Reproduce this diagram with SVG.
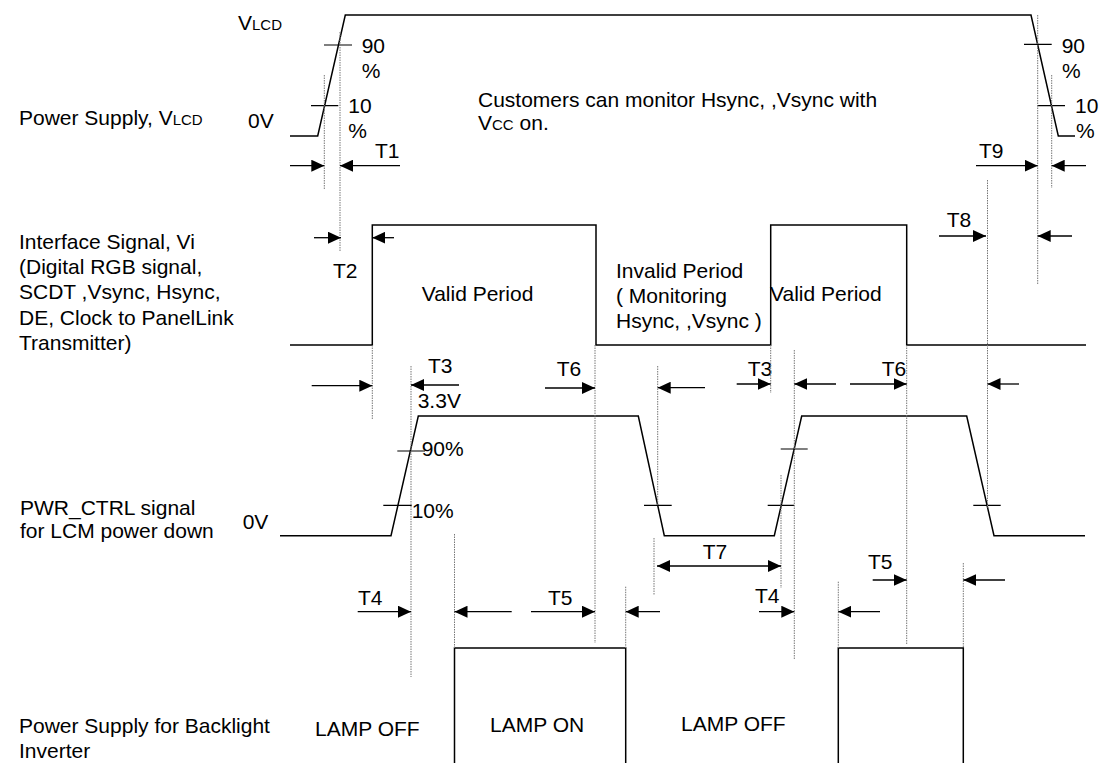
<svg xmlns="http://www.w3.org/2000/svg" width="1115" height="763" viewBox="0 0 1115 763">
<style>
text{font-family:"Liberation Sans",Arial,sans-serif;font-size:21px;fill:#000}
.sm{font-size:15px}
.tr{fill:none;stroke:#000;stroke-width:1.5}
.tk{fill:none;stroke:#000;stroke-width:1.2}
.dt{fill:none;stroke:#777;stroke-width:1;stroke-dasharray:1.5,1}
.ar{fill:none;stroke:#000;stroke-width:1.3;marker-end:url(#ah)}
.ar2{fill:none;stroke:#000;stroke-width:1.3;marker-end:url(#ah);marker-start:url(#ahs)}
</style>
<defs>
<marker id="ah" markerUnits="userSpaceOnUse" markerWidth="14" markerHeight="12" refX="13" refY="6" orient="auto"><path d="M0,0 L13,6 L0,12 z" fill="#000"/></marker>
<marker id="ahs" markerUnits="userSpaceOnUse" markerWidth="14" markerHeight="12" refX="13" refY="6" orient="auto-start-reverse"><path d="M0,0 L13,6 L0,12 z" fill="#000"/></marker>
</defs>
<rect width="1115" height="763" fill="#fff"/>

<g id="labels">
<text x="19" y="125">Power Supply, V<tspan class="sm">LCD</tspan></text>
<text x="19" y="249">Interface Signal, Vi</text>
<text x="19" y="274">(Digital RGB signal,</text>
<text x="19" y="299">SCDT ,Vsync, Hsync,</text>
<text x="19" y="325">DE, Clock to PanelLink</text>
<text x="19" y="350">Transmitter)</text>
<text x="20" y="515">PWR_CTRL signal</text>
<text x="20" y="538">for LCM power down</text>
<text x="19" y="733">Power Supply for Backlight</text>
<text x="19" y="758">Inverter</text>
</g>

<g id="vlcd">
<path class="tr" d="M290,136 H317.7 L345.3,15 H1031 L1058.3,136 H1075"/>
<path class="tk" d="M324,45 H352 M311,105.7 H338.3 M1024,44.3 H1051.7 M1037.3,105.7 H1065"/>
<text x="238" y="30">V<tspan class="sm">LCD</tspan></text>
<text x="361.7" y="53">90</text>
<text x="361.7" y="78">%</text>
<text x="348.3" y="113">10</text>
<text x="348.3" y="138">%</text>
<text x="248" y="128">0V</text>
<text x="375" y="158">T1</text>
<text x="1061.7" y="53">90</text>
<text x="1062" y="78">%</text>
<text x="1075" y="113">10</text>
<text x="1076" y="138">%</text>
<text x="979" y="158">T9</text>
<text x="478" y="106.7">Customers can monitor Hsync, ,Vsync with</text>
<text x="478" y="130">V<tspan class="sm">CC</tspan> on.</text>
</g>

<g id="interface">
<path class="tr" d="M290,345 H372.3 V225 H596 V345 H770.7 V225 H906.7 V345 H1086"/>
<text x="333" y="278">T2</text>
<text x="421.7" y="300.7">Valid Period</text>
<text x="616" y="278.3">Invalid Period</text>
<text x="616" y="303.3">( Monitoring</text>
<text x="616" y="328.3">Hsync, ,Vsync )</text>
<text x="770" y="300.7">Valid Period</text>
<text x="946.7" y="226.7">T8</text>
<text x="428" y="373">T3</text>
<text x="556.7" y="375.7">T6</text>
<text x="747.7" y="375.7">T3</text>
<text x="881.7" y="375.7">T6</text>
</g>

<g id="pwr_ctrl">
<path class="tr" d="M280,535.7 H391 L418.3,416 H638.3 L664.3,535.7 H774.3 L801.7,416 H966.7 L994,535.7 H1085"/>
<path class="tk" d="M397.3,451 H425 M383.3,505.3 H411.7 M644,505.3 H671.7 M780.7,449 H807.7 M767.7,505.3 H794.3 M973.3,505.3 H1000.7"/>
<text x="417.7" y="408.3">3.3V</text>
<text x="421.7" y="456">90%</text>
<text x="411.7" y="518.3">10%</text>
<text x="242.7" y="529">0V</text>
<text x="702.7" y="559">T7</text>
<text x="358" y="605">T4</text>
<text x="548" y="605">T5</text>
<text x="755" y="603">T4</text>
<text x="868" y="569">T5</text>
</g>

<g id="backlight">
<path class="tr" d="M454.5,763 V648 H625.7 V763 M838.3,763 V648 H963.3 V763"/>
<text x="315" y="736">LAMP OFF</text>
<text x="490" y="732">LAMP ON</text>
<text x="681" y="731">LAMP OFF</text>
</g>

<g id="connectors">
<path class="dt" d="M324.3,75 V189 M340,32 V252 M1037.7,15 V284 M1051.7,75 V188 M987.5,180 V508 M372.3,345 V420 M595,345 V643 M411,366 V677 M454.5,534 V648 M625.7,586.7 V648 M657.7,366 V505 M654,538 V595 M781,475 V588 M770.7,345 V393 M794.3,350 V660 M838.3,581.7 V648 M906.7,345 V645 M963.3,563 V648"/>
<path class="ar" d="M290,165.7 H324.3"/>
<path class="ar" d="M400,165.7 H340"/>
<path class="ar" d="M976,165.7 H1037.7"/>
<path class="ar" d="M1086,165.7 H1051.7"/>
<path class="ar" d="M314,237.7 H341"/>
<path class="ar" d="M394,237.7 H372.3"/>
<path class="ar" d="M939,236 H986"/>
<path class="ar" d="M1072,236 H1037.7"/>
<path class="ar" d="M311.7,385.7 H372.3"/>
<path class="ar" d="M459,385 H411"/>
<path class="ar" d="M545,388 H595"/>
<path class="ar" d="M705,387.7 H657.7"/>
<path class="ar" d="M736.7,384 H770.7"/>
<path class="ar" d="M836,384 H794.3"/>
<path class="ar" d="M850,384 H906.7"/>
<path class="ar" d="M1019,384 H987.5"/>
<path class="ar" d="M357.7,611.7 H411"/>
<path class="ar" d="M511.7,611.7 H454.5"/>
<path class="ar" d="M531,611.7 H595"/>
<path class="ar" d="M660,611.7 H625.7"/>
<path class="ar2" d="M657,566 H781"/>
<path class="ar" d="M759,611.7 H794.3"/>
<path class="ar" d="M880,611.7 H838.3"/>
<path class="ar" d="M872.7,580 H906.7"/>
<path class="ar" d="M1005,580 H963.3"/>
</g>
</svg>
